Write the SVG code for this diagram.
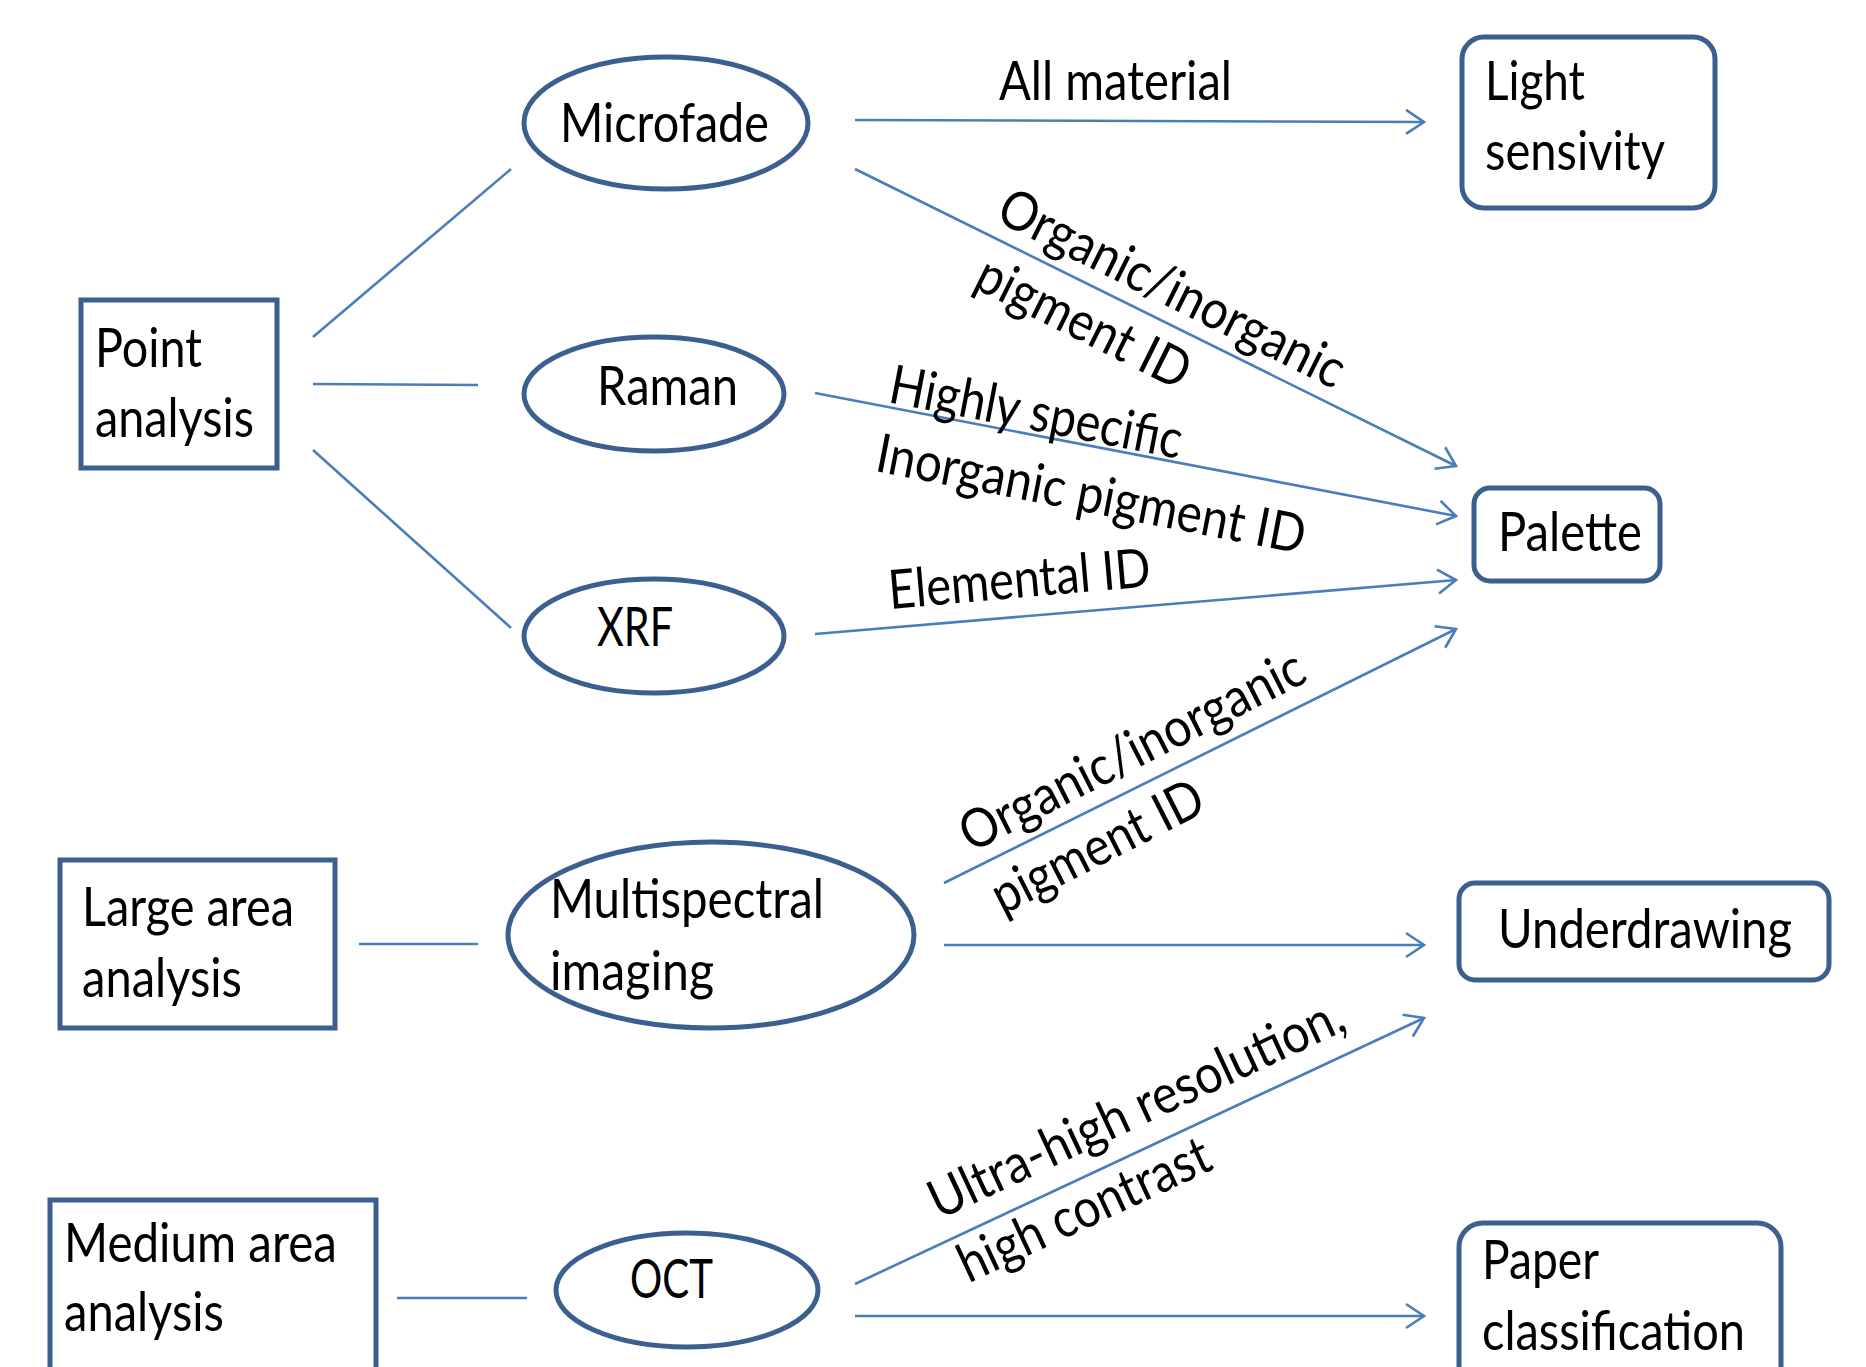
<svg xmlns="http://www.w3.org/2000/svg" width="1866" height="1367" viewBox="0 0 1866 1367">
<defs>
<style>
.box{fill:#fff;stroke:#3b5f8f;stroke-width:5}
.t{font-family:Lato,"Liberation Sans",Arial,sans-serif;font-size:54px;fill:#000}
.c{fill:none;stroke:#4a7ebb;stroke-width:2.6}
</style>
<marker id="ah" markerUnits="userSpaceOnUse" markerWidth="40" markerHeight="40" refX="20" refY="20" orient="auto" viewBox="0 0 40 40">
<path d="M2,8 L20,20 L2,32" fill="none" stroke="#4a7ebb" stroke-width="2.6"/>
</marker>
</defs>
<rect width="1866" height="1367" fill="#fff"/>
<g id="connectors">
<line class="c" x1="313" y1="337" x2="511" y2="169"/>
<line class="c" x1="313" y1="384" x2="478" y2="385"/>
<line class="c" x1="313" y1="450" x2="511" y2="628"/>
<line class="c" x1="359" y1="944" x2="478" y2="944"/>
<line class="c" x1="397" y1="1298" x2="527" y2="1298"/>
<line class="c" x1="855" y1="120" x2="1424" y2="122" marker-end="url(#ah)"/>
<line class="c" x1="855" y1="169" x2="1456" y2="466" marker-end="url(#ah)"/>
<line class="c" x1="815" y1="393" x2="1456" y2="516" marker-end="url(#ah)"/>
<line class="c" x1="815" y1="634" x2="1456" y2="580" marker-end="url(#ah)"/>
<line class="c" x1="944" y1="883" x2="1456" y2="629" marker-end="url(#ah)"/>
<line class="c" x1="944" y1="945" x2="1424" y2="945" marker-end="url(#ah)"/>
<line class="c" x1="855" y1="1284" x2="1424" y2="1018" marker-end="url(#ah)"/>
<line class="c" x1="855" y1="1316" x2="1424" y2="1316" marker-end="url(#ah)"/>
<text class="t" x="999" y="100" textLength="233" lengthAdjust="spacingAndGlyphs">All material</text>
<g transform="translate(994,220) rotate(26.5)">
<text class="t" x="0" y="0" textLength="380" lengthAdjust="spacingAndGlyphs">Organic/inorganic</text>
<text class="t" x="10" y="70" textLength="232" lengthAdjust="spacingAndGlyphs">pigment ID</text>
</g>
<g transform="translate(887,402) rotate(11)">
<text class="t" x="0" y="0" textLength="297" lengthAdjust="spacingAndGlyphs">Highly specific</text>
<text class="t" x="0" y="70" textLength="436" lengthAdjust="spacingAndGlyphs">Inorganic pigment ID</text>
</g>
<text class="t" transform="translate(890,609) rotate(-5)" textLength="263" lengthAdjust="spacingAndGlyphs">Elemental ID</text>
<g transform="translate(971,853) rotate(-27)">
<text class="t" x="0" y="0" textLength="380" lengthAdjust="spacingAndGlyphs">Organic/inorganic</text>
<text class="t" x="0" y="70" textLength="231" lengthAdjust="spacingAndGlyphs">pigment ID</text>
</g>
<g transform="translate(939,1220) rotate(-25)">
<text class="t" x="0" y="0" textLength="452" lengthAdjust="spacingAndGlyphs">Ultra-high resolution,</text>
<text class="t" x="0" y="70" textLength="272" lengthAdjust="spacingAndGlyphs">high contrast</text>
</g>
</g>
<g id="point-analysis">
<rect class="box" x="81" y="300" width="196" height="168"/>
<text class="t" x="95" y="367" textLength="107" lengthAdjust="spacingAndGlyphs">Point</text>
<text class="t" x="95" y="437" textLength="159" lengthAdjust="spacingAndGlyphs">analysis</text>
</g>
<g id="large-area">
<rect class="box" x="60" y="860" width="275" height="168"/>
<text class="t" x="82" y="926" textLength="212" lengthAdjust="spacingAndGlyphs">Large area</text>
<text class="t" x="82" y="997" textLength="160" lengthAdjust="spacingAndGlyphs">analysis</text>
</g>
<g id="medium-area">
<rect class="box" x="50" y="1200" width="326" height="180"/>
<text class="t" x="64" y="1262" textLength="273" lengthAdjust="spacingAndGlyphs">Medium area</text>
<text class="t" x="64" y="1331" textLength="160" lengthAdjust="spacingAndGlyphs">analysis</text>
</g>
<g id="microfade">
<ellipse class="box" cx="666" cy="123" rx="142" ry="66"/>
<text class="t" x="560" y="142" textLength="209" lengthAdjust="spacingAndGlyphs">Microfade</text>
</g>
<g id="raman">
<ellipse class="box" cx="654" cy="394" rx="130" ry="57"/>
<text class="t" x="597" y="405" textLength="141" lengthAdjust="spacingAndGlyphs">Raman</text>
</g>
<g id="xrf">
<ellipse class="box" cx="654" cy="636" rx="130" ry="57"/>
<text class="t" x="597" y="646" textLength="76" lengthAdjust="spacingAndGlyphs">XRF</text>
</g>
<g id="multispectral">
<ellipse class="box" cx="711" cy="935" rx="203" ry="93"/>
<text class="t" x="550" y="918" textLength="274" lengthAdjust="spacingAndGlyphs">Multispectral</text>
<text class="t" x="550" y="990" textLength="164" lengthAdjust="spacingAndGlyphs">imaging</text>
</g>
<g id="oct">
<ellipse class="box" cx="687" cy="1290" rx="131" ry="57"/>
<text class="t" x="630" y="1298" textLength="83" lengthAdjust="spacingAndGlyphs">OCT</text>
</g>
<g id="light-sensivity">
<rect class="box" x="1462" y="37" width="253" height="171" rx="22"/>
<text class="t" x="1485" y="100" textLength="100" lengthAdjust="spacingAndGlyphs">Light</text>
<text class="t" x="1485" y="170" textLength="180" lengthAdjust="spacingAndGlyphs">sensivity</text>
</g>
<g id="palette">
<rect class="box" x="1474" y="488" width="186" height="93" rx="16"/>
<text class="t" x="1498" y="551" textLength="144" lengthAdjust="spacingAndGlyphs">Palette</text>
</g>
<g id="underdrawing">
<rect class="box" x="1459" y="883" width="370" height="97" rx="16"/>
<text class="t" x="1498" y="948" textLength="294" lengthAdjust="spacingAndGlyphs">Underdrawing</text>
</g>
<g id="paper-classification">
<rect class="box" x="1459" y="1223" width="322" height="170" rx="24"/>
<text class="t" x="1482" y="1279" textLength="117" lengthAdjust="spacingAndGlyphs">Paper</text>
<text class="t" x="1482" y="1350" textLength="263" lengthAdjust="spacingAndGlyphs">classification</text>
</g>
</svg>
